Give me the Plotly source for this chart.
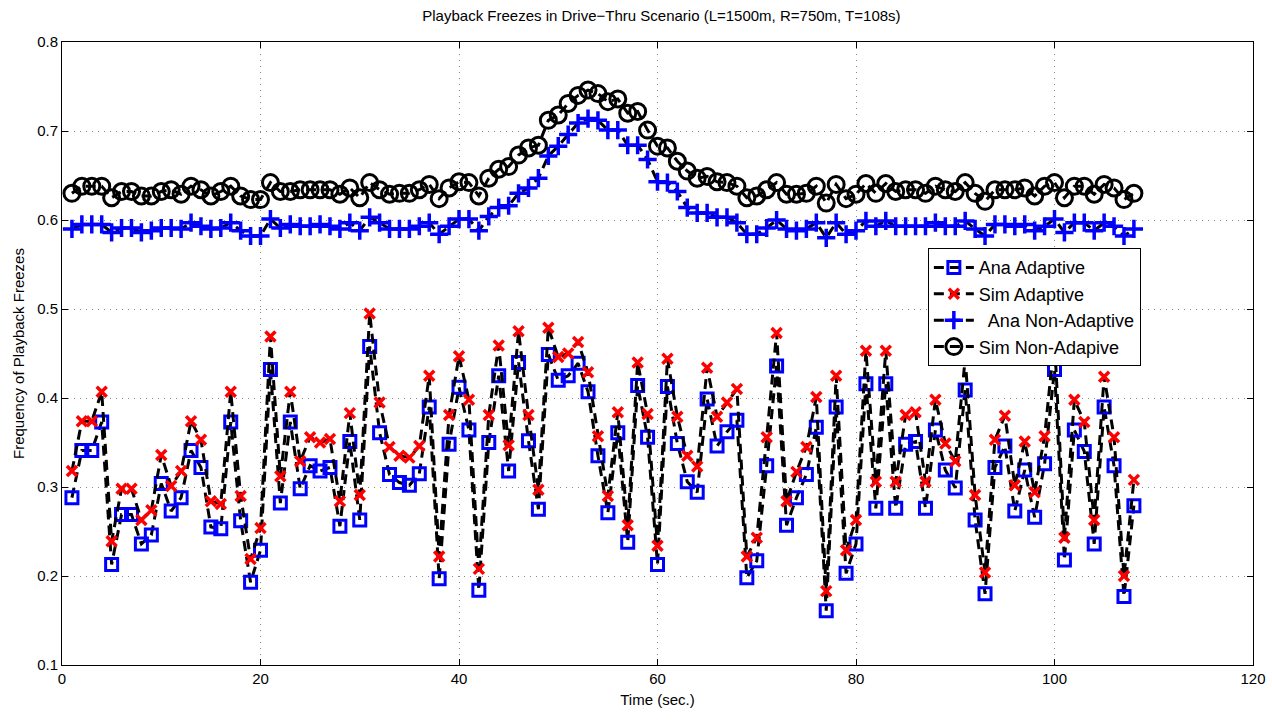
import plotly.graph_objects as go

time = list(range(1, 109))

ana_adaptive = [
    0.288, 0.341, 0.341, 0.373, 0.213, 0.269, 0.269, 0.236, 0.246, 0.304,
    0.273, 0.288, 0.341, 0.322, 0.255, 0.253, 0.373, 0.262, 0.193, 0.229,
    0.432, 0.282, 0.373, 0.298, 0.324, 0.318, 0.322, 0.256, 0.351, 0.263,
    0.458, 0.361, 0.314, 0.305, 0.302, 0.315, 0.390, 0.197, 0.348, 0.412,
    0.364, 0.184, 0.350, 0.425, 0.318, 0.440, 0.352, 0.275, 0.449, 0.420,
    0.425, 0.439, 0.407, 0.335, 0.271, 0.361, 0.238, 0.414, 0.356, 0.213,
    0.413, 0.349, 0.306, 0.294, 0.399, 0.346, 0.362, 0.375, 0.198, 0.217,
    0.324, 0.436, 0.257, 0.288, 0.314, 0.367, 0.161, 0.390, 0.203, 0.236,
    0.416, 0.276, 0.416, 0.276, 0.348, 0.351, 0.276, 0.364, 0.319, 0.299,
    0.409, 0.263, 0.180, 0.322, 0.346, 0.273, 0.319, 0.266, 0.326, 0.432,
    0.218, 0.364, 0.340, 0.236, 0.390, 0.324, 0.177, 0.279,
]

sim_adaptive = [
    0.318, 0.374, 0.374, 0.407, 0.239, 0.298, 0.298, 0.263, 0.274, 0.336,
    0.301, 0.318, 0.374, 0.353, 0.284, 0.281, 0.407, 0.290, 0.219, 0.254,
    0.469, 0.312, 0.407, 0.329, 0.356, 0.350, 0.354, 0.284, 0.383, 0.291,
    0.495, 0.395, 0.345, 0.335, 0.333, 0.346, 0.425, 0.222, 0.381, 0.447,
    0.398, 0.208, 0.381, 0.459, 0.347, 0.475, 0.381, 0.297, 0.479, 0.446,
    0.450, 0.463, 0.429, 0.357, 0.290, 0.384, 0.257, 0.440, 0.382, 0.234,
    0.444, 0.379, 0.335, 0.323, 0.434, 0.379, 0.395, 0.410, 0.222, 0.243,
    0.356, 0.473, 0.284, 0.317, 0.345, 0.401, 0.183, 0.425, 0.229, 0.263,
    0.453, 0.306, 0.453, 0.306, 0.381, 0.384, 0.306, 0.398, 0.349, 0.329,
    0.444, 0.291, 0.204, 0.353, 0.380, 0.302, 0.351, 0.294, 0.357, 0.466,
    0.243, 0.398, 0.373, 0.263, 0.424, 0.356, 0.200, 0.308,
]

ana_non_adaptive = [
    0.590, 0.595, 0.595, 0.595, 0.586, 0.591, 0.591, 0.586, 0.588, 0.591,
    0.591, 0.590, 0.597, 0.593, 0.590, 0.591, 0.597, 0.588, 0.582, 0.582,
    0.601, 0.591, 0.595, 0.593, 0.593, 0.595, 0.593, 0.590, 0.597, 0.588,
    0.603, 0.597, 0.590, 0.590, 0.590, 0.593, 0.597, 0.584, 0.593, 0.601,
    0.601, 0.588, 0.604, 0.614, 0.616, 0.630, 0.636, 0.647, 0.672, 0.683,
    0.696, 0.709, 0.714, 0.712, 0.701, 0.701, 0.684, 0.684, 0.668, 0.643,
    0.642, 0.632, 0.614, 0.608, 0.608, 0.603, 0.603, 0.597, 0.584, 0.584,
    0.591, 0.600, 0.590, 0.588, 0.590, 0.597, 0.580, 0.597, 0.584, 0.588,
    0.599, 0.593, 0.599, 0.593, 0.593, 0.593, 0.593, 0.597, 0.593, 0.593,
    0.599, 0.590, 0.582, 0.595, 0.595, 0.593, 0.595, 0.588, 0.593, 0.601,
    0.586, 0.597, 0.597, 0.588, 0.597, 0.593, 0.582, 0.590,
]

sim_non_adaptive = [
    0.630, 0.638, 0.638, 0.638, 0.625, 0.632, 0.632, 0.627, 0.627, 0.632,
    0.634, 0.629, 0.638, 0.634, 0.627, 0.632, 0.638, 0.627, 0.623, 0.623,
    0.642, 0.632, 0.632, 0.634, 0.634, 0.634, 0.634, 0.629, 0.636, 0.625,
    0.642, 0.634, 0.629, 0.630, 0.630, 0.634, 0.640, 0.624, 0.636, 0.643,
    0.642, 0.627, 0.647, 0.657, 0.660, 0.673, 0.681, 0.684, 0.712, 0.718,
    0.731, 0.740, 0.746, 0.742, 0.733, 0.736, 0.720, 0.722, 0.701, 0.683,
    0.681, 0.666, 0.655, 0.647, 0.649, 0.643, 0.642, 0.638, 0.625, 0.627,
    0.634, 0.642, 0.629, 0.629, 0.630, 0.638, 0.619, 0.640, 0.624, 0.629,
    0.641, 0.630, 0.641, 0.632, 0.634, 0.634, 0.630, 0.638, 0.634, 0.632,
    0.642, 0.630, 0.621, 0.634, 0.634, 0.634, 0.636, 0.627, 0.638, 0.642,
    0.625, 0.638, 0.638, 0.629, 0.640, 0.636, 0.623, 0.630,
]

x_ticks = [0, 20, 40, 60, 80, 100, 120]
y_ticks = [0.1, 0.2, 0.3, 0.4, 0.5, 0.6, 0.7, 0.8]

FONT = "Liberation Sans Narrow, Liberation Sans, Arial, sans-serif"
DASH = "10px,6px"

fig = go.Figure()

series = [
    ("Ana Adaptive", ana_adaptive, dict(symbol="square-open", size=12, color="#0000ff",
                                         line=dict(width=3, color="#0000ff"))),
    ("Sim Adaptive", sim_adaptive, dict(symbol="x-thin", size=10, color="#ff0000",
                                         line=dict(width=3.5, color="#ff0000"))),
    ("  Ana Non-Adaptive", ana_non_adaptive, dict(symbol="cross-thin", size=13, color="#0000ff",
                                                   line=dict(width=3.5, color="#0000ff"))),
    ("Sim Non-Adapive", sim_non_adaptive, dict(symbol="circle-open", size=16, color="#000000",
                                                line=dict(width=3, color="#000000"))),
]

for name, vals, marker in series:
    fig.add_trace(go.Scatter(
        x=time, y=vals, name=name,
        mode="lines+markers",
        line=dict(color="black", width=3, dash=DASH),
        marker=marker,
    ))

fig.update_layout(
    width=1272, height=728,
    margin=dict(l=62, r=19, t=42, b=63, autoexpand=False),
    paper_bgcolor="white", plot_bgcolor="white",
    font=dict(family=FONT, size=15, color="black"),
    title=dict(text="Playback Freezes in Drive\u2212Thru Scenario (L=1500m, R=750m, T=108s)",
               x=0.52, xanchor="center", y=0.985, yanchor="top",
               font=dict(family=FONT, size=15)),
    showlegend=True,
    legend=dict(x=0.727, y=0.669, xanchor="left", yanchor="top",
                bordercolor="black", borderwidth=1, bgcolor="white",
                font=dict(family=FONT, size=18), tracegroupgap=0,
                itemwidth=40),
)

axis_common = dict(
    showline=True, linecolor="black", linewidth=1, mirror="ticks",
    ticks="inside", ticklen=6, tickcolor="black",
    showgrid=True, gridcolor="#888888", griddash="1px,5px", gridwidth=1,
    zeroline=False,
    tickfont=dict(family=FONT, size=15),
)

fig.update_xaxes(range=[0, 120], tickvals=x_ticks, ticktext=[str(v) for v in x_ticks],
                 title=dict(text="Time (sec.)", font=dict(family=FONT, size=15), standoff=8),
                 **axis_common)
fig.update_yaxes(range=[0.1, 0.8], tickvals=y_ticks, ticktext=[f"{v:.1f}" for v in y_ticks],
                 title=dict(text="Frequency of Playback Freezes", font=dict(family=FONT, size=15),
                            standoff=8),
                 **axis_common)

fig.write_html("out.html")
